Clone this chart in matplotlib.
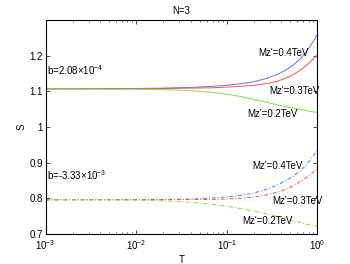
import matplotlib
matplotlib.use("Agg")
import matplotlib.pyplot as plt
from matplotlib.ticker import LogLocator, NullFormatter

plt.rcParams['font.family'] = ['Liberation Sans', 'DejaVu Sans']
plt.rcParams['mathtext.fontset'] = 'custom'
plt.rcParams['mathtext.rm'] = 'Liberation Sans'
plt.rcParams['mathtext.it'] = 'Liberation Sans'

# sampled T values (log axis)
T = [0.001, 0.01, 0.02, 0.04, 0.07, 0.1, 0.14, 0.2, 0.28, 0.36, 0.45, 0.55, 0.65, 0.75, 0.87, 1.0]

# b = 2.08e-4 (solid)
s_top_04 = [1.107, 1.108, 1.109, 1.111, 1.114, 1.117, 1.121, 1.127, 1.137, 1.147, 1.160, 1.175, 1.192, 1.210, 1.234, 1.259]
s_top_03 = [1.107, 1.107, 1.108, 1.109, 1.110, 1.112, 1.114, 1.117, 1.122, 1.128, 1.137, 1.148, 1.160, 1.172, 1.187, 1.202]
s_top_02 = [1.107, 1.106, 1.105, 1.102, 1.097, 1.092, 1.086, 1.077, 1.069, 1.062, 1.057, 1.053, 1.049, 1.046, 1.043, 1.041]

# b = -3.33e-3 (dash-dot)
s_bot_04 = [0.796, 0.797, 0.797, 0.798, 0.801, 0.804, 0.808, 0.815, 0.826, 0.837, 0.850, 0.863, 0.877, 0.893, 0.913, 0.936]
s_bot_03 = [0.796, 0.796, 0.796, 0.797, 0.797, 0.798, 0.800, 0.804, 0.810, 0.817, 0.826, 0.836, 0.847, 0.858, 0.870, 0.882]
s_bot_02 = [0.796, 0.795, 0.793, 0.789, 0.783, 0.778, 0.772, 0.764, 0.756, 0.749, 0.742, 0.736, 0.732, 0.728, 0.725, 0.722]

labels = ["Mz'=0.4TeV", "Mz'=0.3TeV", "Mz'=0.2TeV"]
colors = ['#6070ff', '#ff5050', '#80e040']

fig = plt.figure(figsize=(3.5, 2.64), dpi=100)
ax = fig.add_axes([0.1306, 0.1136, 0.776, 0.8106])

for s, c in zip([s_top_04, s_top_03, s_top_02], colors):
    ax.plot(T, s, color=c, lw=0.7, ls='-')
for s, c in zip([s_bot_04, s_bot_03, s_bot_02], colors):
    ax.plot(T, s, color=c, lw=0.7, ls='-.', dashes=(4, 2, 1, 2))

fs = 7
ax.text(0.221, 1.208, labels[0], fontsize=fs, va='center')
ax.text(0.295, 1.100, labels[1], fontsize=fs, va='center')
ax.text(0.170, 1.036, labels[2], fontsize=fs, va='center')
ax.text(0.193, 0.890, labels[0], fontsize=fs, va='center')
ax.text(0.321, 0.792, labels[1], fontsize=fs, va='center')
ax.text(0.150, 0.736, labels[2], fontsize=fs, va='center')
ax.text(1.03e-3, 1.160, r'b=2.08$\times$10$^{-4}$', fontsize=fs, va='center')
ax.text(1.03e-3, 0.866, r'b=-3.33$\times$10$^{-3}$', fontsize=fs, va='center')

ax.set_xscale('log')
ax.set_xlim(1e-3, 1)
ax.set_ylim(0.7, 1.3)
ax.set_yticks([0.7, 0.8, 0.9, 1.0, 1.1, 1.2])
ax.set_yticklabels(['0.7', '0.8', '0.9', '1', '1.1', '1.2'])
ax.xaxis.set_minor_locator(LogLocator(base=10, subs=range(2, 10)))
ax.xaxis.set_minor_formatter(NullFormatter())
ax.tick_params(which='both', direction='in', top=True, right=True, labelsize=fs, pad=2)
ax.tick_params(axis='x', which='major', pad=3)
ax.tick_params(which='major', length=3, width=0.5)
ax.tick_params(which='minor', length=1.5, width=0.4)
for sp in ax.spines.values():
    sp.set_linewidth(0.8)

ax.set_title('N=3', fontsize=fs, pad=4)
ax.set_xlabel('T', fontsize=fs, labelpad=2)
ax.set_ylabel('S', fontsize=fs, labelpad=2)

fig.savefig('out.png', dpi=100)
